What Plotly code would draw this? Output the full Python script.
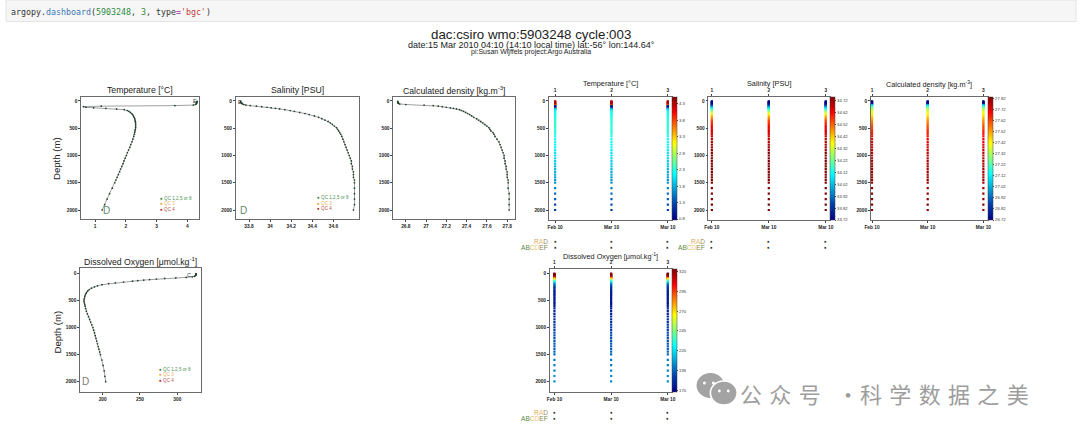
import plotly.graph_objects as go

W, H = 1080, 435

# ------------------------------------------------------------------ data
depth = [5, 15, 25, 35, 45, 55, 65, 75, 85, 95, 105, 115, 125, 135, 145,
         160, 175, 190,
         210, 230, 250, 275, 300, 325, 350, 375, 400,
         430, 460, 490, 520, 550, 580, 610,
         650, 700, 750, 800, 850, 900, 950, 1000,
         1050, 1100, 1150, 1200, 1250, 1300, 1350, 1400, 1450, 1500,
         1600, 1700, 1800, 1900, 2000]

temp = [4.32, 4.32, 4.31, 4.31, 4.30, 4.29, 4.27, 4.20, 3.60, 1.20, 0.62, 0.70, 0.95, 1.35, 1.70,
        1.95, 2.05, 2.10,
        2.15, 2.19, 2.22, 2.25, 2.27, 2.29, 2.30, 2.31, 2.32,
        2.32, 2.32, 2.32, 2.31, 2.30, 2.29, 2.28,
        2.26, 2.23, 2.20, 2.16, 2.13, 2.09, 2.05, 2.02,
        1.98, 1.94, 1.91, 1.87, 1.83, 1.80, 1.76, 1.72, 1.68, 1.64,
        1.56, 1.47, 1.39, 1.31, 1.23]

psal = [33.72, 33.72, 33.72, 33.73, 33.73, 33.74, 33.75, 33.77, 33.81, 33.87, 33.92, 33.97, 34.01, 34.05, 34.09,
        34.14, 34.19, 34.23,
        34.28, 34.33, 34.37, 34.42, 34.46, 34.49, 34.52, 34.55, 34.57,
        34.59, 34.61, 34.63, 34.64, 34.65, 34.66, 34.67,
        34.68, 34.69, 34.70, 34.71, 34.72, 34.73, 34.74, 34.75,
        34.76, 34.77, 34.77, 34.78, 34.78, 34.79, 34.79, 34.79, 34.80, 34.80,
        34.80, 34.80, 34.80, 34.80, 34.79]

sigma = [26.72, 26.72, 26.72, 26.72, 26.73, 26.74, 26.80, 26.98, 27.07, 27.12, 27.16, 27.20, 27.24, 27.27, 27.30,
         27.33, 27.35, 27.37,
         27.39, 27.41, 27.43, 27.45, 27.47, 27.50, 27.52, 27.54, 27.56,
         27.58, 27.60, 27.62, 27.63, 27.64, 27.66, 27.67,
         27.68, 27.70, 27.72, 27.73, 27.74, 27.75, 27.76, 27.77,
         27.77, 27.78, 27.78, 27.79, 27.79, 27.80, 27.80, 27.80, 27.81, 27.81,
         27.81, 27.82, 27.82, 27.82, 27.82]

doxy = [325, 325, 325, 325, 324, 323, 320, 312, 298, 283, 272, 263, 255, 247, 240,
        228, 217, 208,
        199, 193, 189, 185, 182, 180, 178.5, 177.5, 176.5,
        176, 175.5, 175, 175, 175.5, 176, 176.5,
        177, 178, 179.5, 181, 182.5, 184, 185.5, 187,
        188, 189, 190, 191, 192, 193, 194, 195, 196, 197,
        199, 200.5, 202, 203, 204]

cycles = [1, 2, 3]
cycle_dates = ["Feb 10", "Mar 10", "Mar 10"]

depth_ticks = [0, 500, 1000, 1500, 2000]
temp_xticks = [1, 2, 3, 4]
psal_xticks = [33.8, 34.0, 34.2, 34.4, 34.6]
sigma_xticks = [26.8, 27.0, 27.2, 27.4, 27.6, 27.8]
doxy_xticks = [200, 250, 300]

temp_cb_ticks = [0.8, 1.3, 1.8, 2.3, 2.8, 3.3, 3.8, 4.3]
psal_cb_ticks = [33.72, 33.82, 33.92, 34.02, 34.12, 34.22, 34.32, 34.42, 34.52, 34.62, 34.72]
sigma_cb_ticks = [26.72, 26.82, 26.92, 27.02, 27.12, 27.22, 27.32, 27.42, 27.52, 27.62, 27.72, 27.82]
doxy_cb_ticks = [170, 195, 220, 245, 270, 295, 320]

qc_legend = [("QC 1,2,5 or 8", "#2e7d32", "#4f8f55"),
             ("QC 3", "#f0a030", "#e8b060"),
             ("QC 4", "#b22222", "#c05050")]

# ------------------------------------------------------------------ helpers
FONT = "Liberation Sans, Arial, Helvetica, sans-serif"


def fx(px):
    return px / W


def fy(py):
    return 1 - py / H


fig = go.Figure()
layout = {}
annotations = []
shapes = []

axis_common = dict(showline=True, mirror=True, linecolor="#6a6a6a", linewidth=0.8,
                   ticks="outside", ticklen=2, tickwidth=0.6, tickcolor="#444",
                   showgrid=False, zeroline=False,
                   tickfont=dict(family=FONT, size=4.8, color="#222", weight="bold"))


def make_axes(n, box, xr, yr, xticks, xtext=None):
    x0, x1, y0, y1 = box
    xa = dict(axis_common, domain=[fx(x0), fx(x1)], range=xr, anchor=f"y{n}",
              tickmode="array", tickvals=xticks)
    if xtext is not None:
        xa["ticktext"] = xtext
    ya = dict(axis_common, domain=[fy(y1), fy(y0)], range=yr, anchor=f"x{n}",
              tickmode="array", tickvals=depth_ticks)
    layout["xaxis" if n == 1 else f"xaxis{n}"] = xa
    layout["yaxis" if n == 1 else f"yaxis{n}"] = ya


def ax_ref(n):
    return ("x" if n == 1 else f"x{n}"), ("y" if n == 1 else f"y{n}")


def title_at(text, xc, yc, size):
    annotations.append(dict(text=text, x=fx(xc), y=fy(yc), xref="paper", yref="paper",
                            showarrow=False, xanchor="center", yanchor="middle",
                            font=dict(family=FONT, size=size, color="#222")))


# ------------------------------------------------------------------ profile panels
profiles = [
    (1, (76, 195, 97, 219), [0.55, 4.39], [2165, -73], temp_xticks, temp, "Temperature [°C]",
     (155, 198.3), (101, 210, "#5e8c6a"), (191, 101, "E")),
    (2, (232, 356, 97, 219), [33.675, 34.84], [2165, -73], psal_xticks, psal, "Salinity [PSU]",
     (313, 197.7), (240, 210, "#5e8c6a"), (236.5, 102, "E")),
    (3, (391, 514, 97, 219), [26.677, 27.88], [2165, -73], sigma_xticks, sigma,
     "Calculated density [kg.m<sup>-3</sup>]", None, None, None),
    (4, (75, 197, 268, 392), [170, 332], [2190, -98], doxy_xticks, doxy,
     "Dissolved Oxygen [μmol.kg<sup>-1</sup>]", (154, 369.3), (80, 381.7, "#7a7a7a"), (185, 275, "C")),
]

for n, box, xr, yr, xt, vals, title, leg, dpos, top in profiles:
    make_axes(n, box, xr, yr, xt)
    xa, ya = ax_ref(n)
    fig.add_trace(go.Scatter(x=vals, y=depth, xaxis=xa, yaxis=ya, mode="lines+markers",
                             line=dict(color="#5f5f5f", width=0.6),
                             marker=dict(size=1.7, color="#1e3f26"),
                             showlegend=False, hoverinfo="skip"))
    x0, x1, y0, y1 = box
    title_at(title, (x0 + x1) / 2, y0 - 7.5, 8.7)
    if leg is not None:
        lx, ly = leg
        for i, (lab, dc, tc) in enumerate(qc_legend):
            annotations.append(dict(
                text=f"<span style='color:{dc}'>●</span> <span style='color:{tc}'>{lab}</span>",
                x=fx(lx - 1.5), y=fy(ly + i * 5.4), xref="paper", yref="paper", showarrow=False,
                xanchor="left", yanchor="middle", font=dict(family=FONT, size=4.6)))
    if dpos is not None:
        dx, dy, dcol = dpos
        annotations.append(dict(text="D", x=fx(dx), y=fy(dy), xref="paper", yref="paper",
                                showarrow=False, xanchor="center", yanchor="middle",
                                font=dict(family=FONT, size=10, color=dcol)))
    if top is not None:
        tx, ty, tl = top
        annotations.append(dict(text=tl, x=fx(tx), y=fy(ty), xref="paper", yref="paper",
                                showarrow=False, xanchor="center", yanchor="middle",
                                font=dict(family=FONT, size=5.5, color="#333")))

for yc in (158.5, 332):
    annotations.append(dict(text="Depth (m)", x=fx(51), y=fy(yc), xref="paper", yref="paper",
                            showarrow=False, textangle=-90, xanchor="center", yanchor="middle",
                            font=dict(family=FONT, size=9.6, color="#222")))

# ------------------------------------------------------------------ section panels
jet = [[0.0, "rgb(0,0,131)"], [0.125, "rgb(0,60,170)"], [0.375, "rgb(5,255,255)"],
       [0.625, "rgb(255,255,0)"], [0.875, "rgb(250,0,0)"], [1.0, "rgb(128,0,0)"]]

sections = [
    (5, (548, 672, 97, 220), [0.89, 3.07], [2183, -73], temp, 0.77, 4.5, temp_cb_ticks,
     "Temperature [°C]", (549, 241.3, 247.8)),
    (6, (709, 832, 97, 220), [0.94, 3.08], [2183, -73], psal, 33.72, 34.75, psal_cb_ticks,
     "Salinity [PSU]", (708, 241.3, 247.8)),
    (7, (873, 991, 97, 220), [0.98, 3.08], [2183, -73], sigma, 26.72, 27.835, sigma_cb_ticks,
     "Calculated density [kg.m<sup>-3</sup>]", None),
    (8, (549, 672, 269, 392), [0.92, 3.07], [2196, -79], doxy, 168, 323, doxy_cb_ticks,
     "Dissolved Oxygen [μmol.kg<sup>-1</sup>]", (549, 412.3, 418.8)),
]

top_axis_n = 9
for n, box, xr, yr, vals, cmin, cmax, cbt, title, qc in sections:
    make_axes(n, box, xr, yr, cycles, cycle_dates)
    xa, ya = ax_ref(n)
    xs, ys, cs = [], [], []
    for c in cycles:
        xs += [c] * len(depth)
        ys += depth
        cs += vals
    x0, x1, y0, y1 = box
    fig.add_trace(go.Scatter(
        x=xs, y=ys, xaxis=xa, yaxis=ya, mode="markers",
        marker=dict(symbol="square", size=2.2, color=cs, cmin=cmin, cmax=cmax,
                    colorscale=jet, line=dict(width=0), showscale=True,
                    colorbar=dict(x=fx(x1), xanchor="left", y=fy((y0 + y1) / 2), yanchor="middle",
                                  len=(y1 - y0) / H, lenmode="fraction", thickness=5,
                                  thicknessmode="pixels", xpad=0, ypad=0,
                                  outlinewidth=0.5, outlinecolor="#444",
                                  tickmode="array", tickvals=cbt, ticks="outside",
                                  ticklen=1.5, tickwidth=0.5, tickcolor="#444",
                                  tickfont=dict(family=FONT, size=4.2, color="#333"))),
        showlegend=False, hoverinfo="skip"))
    tn = top_axis_n
    top_axis_n += 1
    layout[f"xaxis{tn}"] = dict(axis_common, overlaying=xa, side="top", range=xr, anchor=ya,
                                tickmode="array", tickvals=cycles,
                                ticktext=[str(c) for c in cycles], showline=False)
    fig.add_trace(go.Scatter(x=cycles, y=[0] * len(cycles), xaxis=f"x{tn}", yaxis=ya,
                             mode="markers", marker=dict(opacity=0), showlegend=False,
                             hoverinfo="skip"))
    title_at(title, (x0 + x1) / 2, y0 - 13, 7.3)
    if qc is not None:
        rx, r1, r2 = qc
        rad = ("<span style='color:#e2a25e'>R</span><span style='color:#e8c07a'>A</span>"
               "<span style='color:#9a8a5a'>D</span>")
        abc = ("<span style='color:#5b8a45'>A</span><span style='color:#5b8a45'>B</span>"
               "<span style='color:#e6b860'>C</span><span style='color:#f0c880'>D</span>"
               "<span style='color:#8a7f45'>E</span><span style='color:#6d8a40'>F</span>")
        for txt, yy in ((rad, r1), (abc, r2)):
            annotations.append(dict(text=txt, x=fx(rx), y=fy(yy), xref="paper", yref="paper",
                                    showarrow=False, xanchor="right", yanchor="middle",
                                    font=dict(family=FONT, size=6.6)))
            for c in cycles:
                annotations.append(dict(text="●", x=c, y=fy(yy), xref=xa, yref="paper",
                                        showarrow=False, xanchor="center", yanchor="middle",
                                        font=dict(family=FONT, size=4.6, color="#333")))

# ------------------------------------------------------------------ header
shapes.append(dict(type="rect", xref="paper", yref="paper", x0=0, x1=1, y0=fy(21.5), y1=1,
                   fillcolor="#f6f6f6", line=dict(color="#e4e4e4", width=1), layer="below"))
code = ("<span style='color:#333'>argopy.</span><span style='color:#3b78b5'>dashboard</span>"
        "<span style='color:#333'>(</span><span style='color:#2e8b3e'>5903248</span>"
        "<span style='color:#333'>, </span><span style='color:#2e8b3e'>3</span>"
        "<span style='color:#333'>, type</span><span style='color:#a626a4'>=</span>"
        "<span style='color:#c23b3b'>'bgc'</span><span style='color:#333'>)</span>")
annotations.append(dict(text=code, x=fx(3), y=fy(12.3), xref="paper", yref="paper",
                        showarrow=False, xanchor="left", yanchor="middle",
                        font=dict(family="DejaVu Sans Mono, monospace", size=8.3)))

title_at("dac:csiro wmo:5903248 cycle:003", 530, 34.5, 13.3)
title_at("date:15 Mar 2010 04:10 (14:10 local time) lat:-56° lon:144.64°", 530.5, 45, 9)
title_at("pi:Susan Wijffels project:Argo Australia", 530, 52, 7.0)

# ------------------------------------------------------------------ watermark
wm_col = "#a3a3a3"
shapes += [
    dict(type="circle", xref="paper", yref="paper", x0=fx(697), x1=fx(725), y0=fy(398), y1=fy(373),
         fillcolor=wm_col, line=dict(width=0)),
    dict(type="circle", xref="paper", yref="paper", x0=fx(711), x1=fx(738), y0=fy(405), y1=fy(381),
         fillcolor=wm_col, line=dict(color="white", width=1.6)),
]
for ex, ey, r in ((705, 383, 1.5), (714, 383, 1.5), (720, 391, 1.4), (729, 391, 1.4)):
    shapes.append(dict(type="circle", xref="paper", yref="paper", x0=fx(ex - r), x1=fx(ex + r),
                       y0=fy(ey + r), y1=fy(ey - r), fillcolor="white", line=dict(width=0)))
sp = "\u2004"
for txt, xl in ((sp.join("公众号"), 739), ("·", 837), (sp.join("科学数据之美"), 860)):
    annotations.append(dict(text=txt, x=fx(xl), y=fy(393), xref="paper", yref="paper",
                            showarrow=False, xanchor="left", yanchor="middle",
                            font=dict(family="Noto Sans CJK SC, sans-serif", size=22, color="#9d9d9d")))

fig.update_layout(width=W, height=H, margin=dict(l=0, r=0, t=0, b=0),
                  paper_bgcolor="white", plot_bgcolor="white", showlegend=False,
                  annotations=annotations, shapes=shapes, **layout)

fig.write_html("out.html", config={"displayModeBar": False},
               post_script=["document.body.style.margin='0px';document.body.style.overflow='hidden';"])
